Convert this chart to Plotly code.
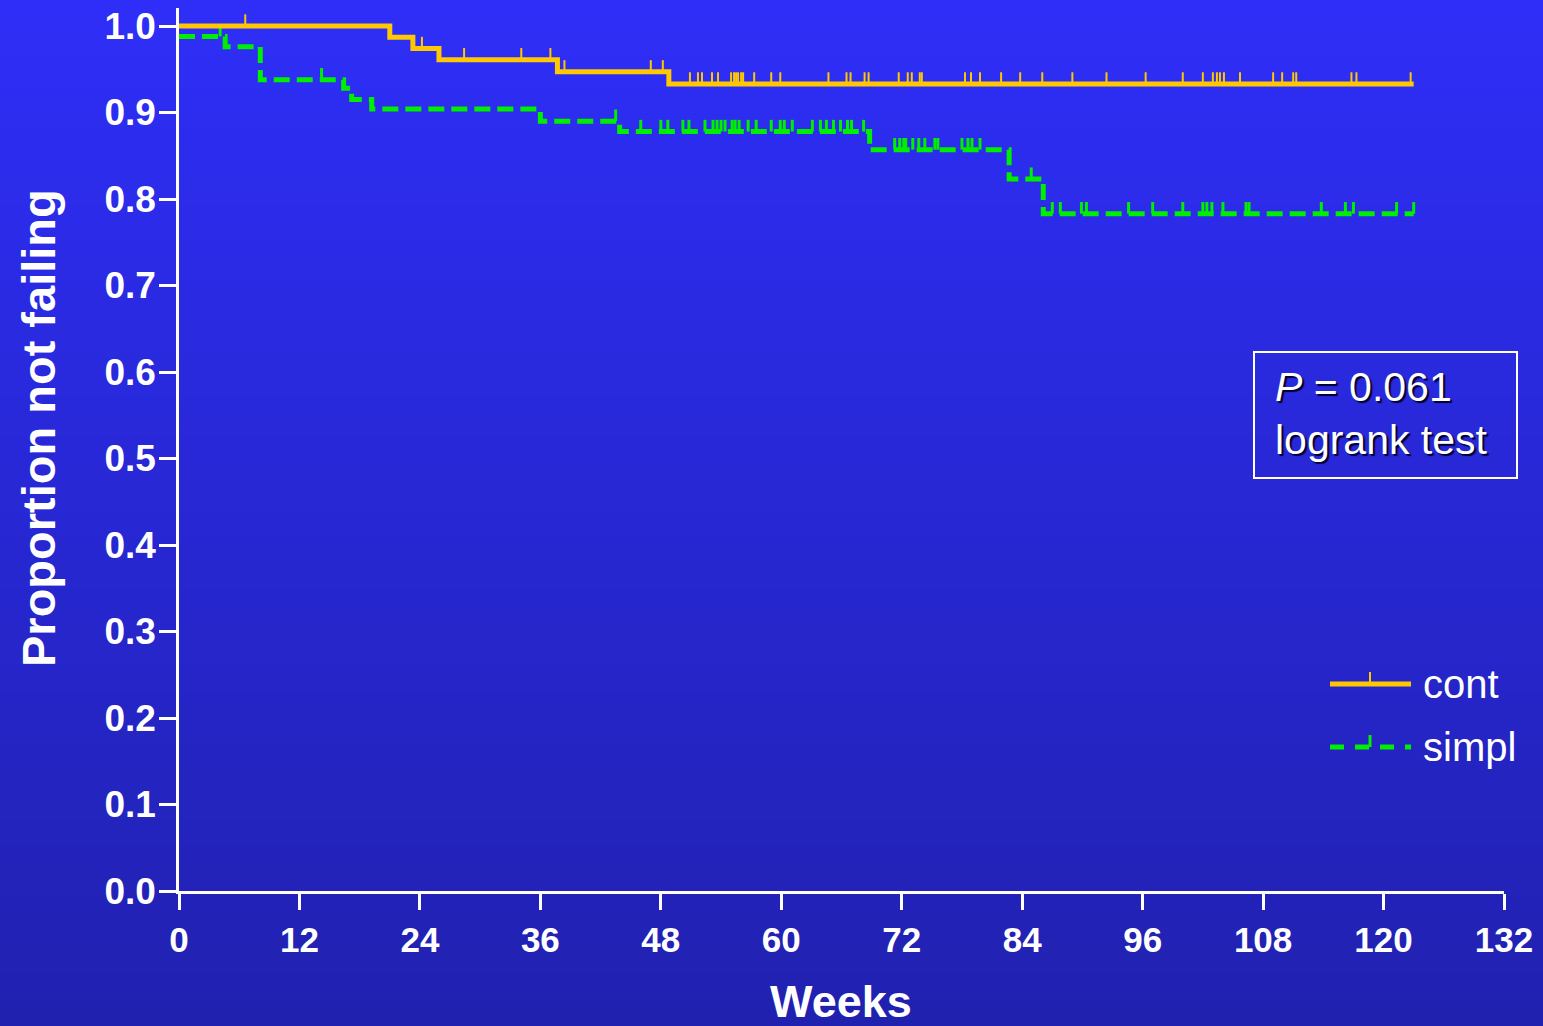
import plotly.graph_objects as go

# ---- Kaplan-Meier data (weeks, proportion not failing) ----
cont_start = 1.0
cont_event_weeks = [21.0, 23.3, 25.9, 37.7, 48.8]
cont_event_surv = [0.987, 0.974, 0.961, 0.947, 0.933]
cont_end_week = 123.0
cont_censor_weeks = [
    6.6, 24.2, 28.4, 34.1, 37.0, 38.4, 47.0, 48.2, 50.9, 51.7, 52.1, 53.1,
    53.7, 55.0, 55.3, 55.5, 55.7, 56.0, 56.2, 57.3, 59.0, 59.9, 64.7, 66.5,
    66.9, 68.3, 68.7, 71.7, 72.6, 73.0, 73.8, 74.0, 78.3, 78.9, 79.8, 81.9,
    83.8, 86.0, 89.0, 92.4, 96.3, 100.0, 102.0, 103.0, 103.4, 103.7, 104.1,
    105.7, 109.0, 109.9, 111.0, 111.3, 116.8, 117.3, 122.7,
]

simpl_start = 0.988
simpl_event_weeks = [4.6, 8.1, 16.4, 17.2, 19.2, 36.0, 43.9, 68.8, 82.7, 86.1]
simpl_event_surv = [0.976, 0.938, 0.928, 0.915, 0.904, 0.890, 0.878, 0.857,
                    0.823, 0.783]
simpl_end_week = 123.0
simpl_censor_weeks = [
    4.1, 14.2, 43.5, 46.0, 48.0, 48.7, 50.2, 50.8, 52.4, 53.2, 53.6, 54.0,
    54.4, 55.1, 55.4, 55.8, 56.7, 57.5, 59.0, 59.9, 60.3, 61.1, 63.1, 63.9,
    64.5, 65.2, 65.9, 66.6, 67.0, 68.2, 71.3, 71.8, 72.2, 72.4, 73.1, 73.7,
    74.3, 75.3, 75.6, 78.0, 78.6, 79.0, 79.8, 84.9, 87.0, 87.8, 89.9, 90.4,
    94.6, 97.0, 100.0, 102.0, 102.4, 102.9, 104.0, 106.3, 106.6, 113.8,
    116.2, 117.0, 121.3, 123.0,
]

x_ticks = list(range(0, 133, 12))
y_ticks = [round(i * 0.1, 1) for i in range(11)]
y_tick_text = [f"{v:.1f}" for v in y_ticks]

series_names = ["cont", "simpl"]
p_value_text = "<i>P</i> = 0.061<br>logrank test"

# ---- styling ----
W, H = 1543, 1026
ORANGE = "#FFC800"
GREEN = "#00EE00"
WHITE = "#FFFFFF"
TOP_RGB = (46, 46, 248)
BOTTOM_RGB = (33, 33, 176)
TICK_H = 0.0135  # censor tick height in proportion units


def px(x):
    return x / W


def py(y):
    return 1 - y / H


def step_value(t, start, times, surv):
    v = start
    for tt, s in zip(times, surv):
        if tt <= t:
            v = s
    return v


def km_trace(start, times, surv, end, color, dash, name):
    xs = [0.0] + times + [end]
    ys = [start] + surv + [surv[-1]]
    return go.Scatter(
        x=xs, y=ys, mode="lines", line_shape="hv", name=name,
        line=dict(color=color, width=5, dash=dash), showlegend=False,
        hoverinfo="skip",
    )


def censor_trace(cens, start, times, surv, color, thick, name):
    ys = [step_value(t, start, times, surv) for t in cens]
    return go.Scatter(
        x=cens, y=ys, mode="markers", name=name + " censored",
        marker=dict(size=1, color=color, opacity=0),
        error_y=dict(type="data", symmetric=False, array=[TICK_H] * len(cens),
                     arrayminus=[0] * len(cens), color=color,
                     thickness=thick, width=0),
        showlegend=False, hoverinfo="skip",
    )


fig = go.Figure()
fig.add_trace(km_trace(simpl_start, simpl_event_weeks, simpl_event_surv,
                       simpl_end_week, GREEN, "16px,7px", series_names[1]))
fig.add_trace(censor_trace(simpl_censor_weeks, simpl_start, simpl_event_weeks,
                           simpl_event_surv, GREEN, 3, series_names[1]))
fig.add_trace(km_trace(cont_start, cont_event_weeks, cont_event_surv,
                       cont_end_week, ORANGE, "solid", series_names[0]))
fig.add_trace(censor_trace(cont_censor_weeks, cont_start, cont_event_weeks,
                           cont_event_surv, ORANGE, 2, series_names[0]))

# vertical gradient background
shapes = []
n_bands = 80
for i in range(n_bands):
    f = i / (n_bands - 1)
    r = round(TOP_RGB[0] + (BOTTOM_RGB[0] - TOP_RGB[0]) * f)
    g = round(TOP_RGB[1] + (BOTTOM_RGB[1] - TOP_RGB[1]) * f)
    b = round(TOP_RGB[2] + (BOTTOM_RGB[2] - TOP_RGB[2]) * f)
    y0 = 1 - i / n_bands
    y1 = 1 - (i + 1) / n_bands
    shapes.append(dict(type="rect", xref="paper", yref="paper", x0=0, x1=1,
                       y0=y1 - 0.001, y1=y0 + 0.001, layer="below",
                       fillcolor=f"rgb({r},{g},{b})", line=dict(width=0)))

# p-value box
shapes.append(dict(type="rect", xref="paper", yref="paper",
                   x0=px(1254), x1=px(1517), y0=py(478), y1=py(352),
                   line=dict(color=WHITE, width=2), fillcolor="rgba(0,0,0,0)"))

# legend samples
leg_x0, leg_x1, leg_tick = 1330, 1411, 1370
leg_rows = [(684, ORANGE, "solid", 2), (747, GREEN, "14px,11px", 3)]
for (yy, col, dash, tw) in leg_rows:
    shapes.append(dict(type="line", xref="paper", yref="paper",
                       x0=px(leg_x0), x1=px(leg_x1), y0=py(yy), y1=py(yy),
                       line=dict(color=col, width=5, dash=dash)))
    shapes.append(dict(type="line", xref="paper", yref="paper",
                       x0=px(leg_tick), x1=px(leg_tick), y0=py(yy),
                       y1=py(yy - 12), line=dict(color=col, width=tw)))

annotations = [
    dict(text="Proportion not failing", xref="paper", yref="paper",
         x=px(38), y=py(428), textangle=-90, showarrow=False,
         xanchor="center", yanchor="middle",
         font=dict(family="Liberation Sans", size=47, color=WHITE,
                   weight="bold")),
    dict(text="Weeks", xref="paper", yref="paper", x=px(841), y=py(1001),
         showarrow=False, xanchor="center", yanchor="middle",
         font=dict(family="Liberation Sans", size=45, color=WHITE,
                   weight="bold")),
    dict(text=p_value_text, xref="paper", yref="paper", x=px(1273),
         y=py(414), xanchor="left", yanchor="middle", align="left",
         showarrow=False,
         font=dict(family="Liberation Sans", size=41, color=WHITE,
                   shadow="2px 2px 1px #000033")),
]
for (yy, _, _, _), name in zip(leg_rows, series_names):
    annotations.append(dict(text=name, xref="paper", yref="paper",
                            x=px(1421), y=py(yy), xanchor="left",
                            yanchor="middle", showarrow=False,
                            font=dict(family="Liberation Sans", size=40,
                                      color=WHITE)))

fig.update_layout(
    width=W, height=H,
    margin=dict(l=0, r=0, t=0, b=0),
    paper_bgcolor="rgb(40,40,212)",
    plot_bgcolor="rgba(0,0,0,0)",
    shapes=shapes,
    annotations=annotations,
    showlegend=False,
    xaxis=dict(
        domain=[px(179), px(1504)], range=[0, 132], tickvals=x_ticks,
        showgrid=False, zeroline=False, showline=True, linecolor=WHITE,
        linewidth=2.5, ticks="outside", ticklen=16, tickwidth=2.5,
        tickcolor=WHITE, automargin=False, ticklabelstandoff=0,
        tickfont=dict(family="Liberation Sans", size=35, color=WHITE,
                      weight="bold"),
    ),
    yaxis=dict(
        domain=[py(891), py(8)], range=[0, 883 / 865], tickvals=y_ticks,
        ticktext=y_tick_text, showgrid=False, zeroline=False, showline=True,
        linecolor=WHITE, linewidth=2.5, ticks="outside", ticklen=17,
        tickwidth=2.5, tickcolor=WHITE, automargin=False,
        ticklabelstandoff=-4,
        tickfont=dict(family="Liberation Sans", size=37, color=WHITE,
                      weight="bold"),
    ),
)

fig.write_html("out.html")
